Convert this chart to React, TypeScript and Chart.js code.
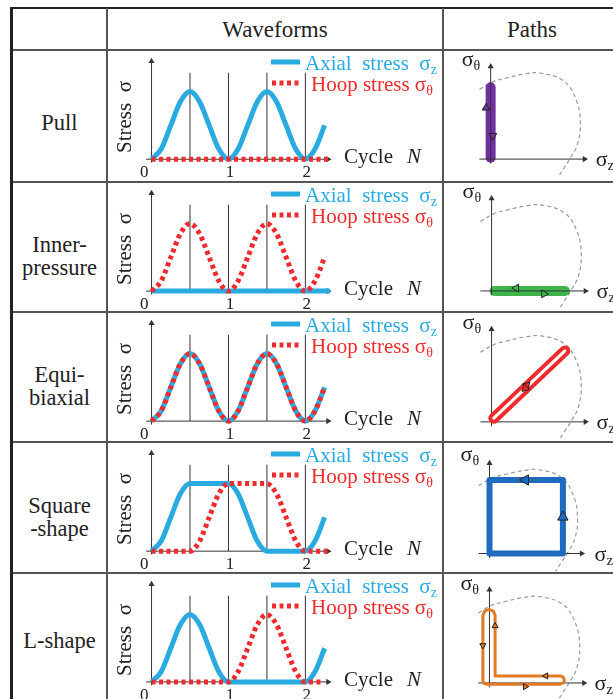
import React, { useEffect, useRef } from 'react';
import { Chart, registerables } from 'chart.js';

Chart.register(...registerables);

const SERIF = '"Liberation Serif", "Times New Roman", serif';
const BLUE = '#29ABE2';
const RED = '#EF2B2D';
const AXIS = '#333333';

// ---------------- waveform data (stress vs cycle N) ----------------
const cycleN = [0, 0.125, 0.25, 0.375, 0.5, 0.625, 0.75, 0.875, 1, 1.125, 1.25, 1.375, 1.5, 1.625, 1.75, 1.875, 2, 2.125, 2.25];
const zeroN = [0, 2.32];
const zeroStress = [0, 0];
const sineStress = [0, 0.15, 0.5, 0.85, 1, 0.85, 0.5, 0.15, 0, 0.15, 0.5, 0.85, 1, 0.85, 0.5, 0.15, 0, 0.15, 0.5];
const squareAxial = [0, 0.15, 0.5, 0.85, 1, 1, 1, 1, 1, 0.85, 0.5, 0.15, 0, 0, 0, 0, 0, 0.15, 0.5];
const squareHoopN = [0, 0.125, 0.25, 0.375, 0.5, 0.625, 0.75, 0.875, 1, 1.125, 1.25, 1.375, 1.5, 1.625, 1.75, 1.875, 2, 2.125, 2.25, 2.32];
const squareHoop = [0, 0, 0, 0, 0, 0.15, 0.5, 0.85, 1, 1, 1, 1, 1, 0.85, 0.5, 0.15, 0, 0, 0, 0];
const lAxial = [0, 0.15, 0.5, 0.85, 1, 0.85, 0.5, 0.15, 0, 0, 0, 0, 0, 0, 0, 0, 0, 0.15, 0.5];
const lHoopN = [0, 0.125, 0.25, 0.375, 0.5, 0.625, 0.75, 0.875, 1, 1.125, 1.25, 1.375, 1.5, 1.625, 1.75, 1.875, 2, 2.125, 2.2];
const lHoop = [0, 0, 0, 0, 0, 0, 0, 0, 0, 0.15, 0.5, 0.85, 1, 0.85, 0.5, 0.15, 0, 0, 0];
const markerN = [0.5, 1, 1.5, 2];
const markerTop = 1.28;
const tickValues = [0, 1, 2];
const tickLabels = ['0', '1', '2'];

// ---------------- path data (sigma_z, sigma_theta) ----------------
const yieldZ = [-0.15, 0.02, 0.22, 0.45, 0.66, 0.97, 1.14, 1.2, 1.16, 1.075, 0.97, 0.9];
const yieldT = [0.95, 1.05, 1.11, 1.16, 1.175, 1.07, 0.82, 0.49, 0.2, 0.03, -0.14, -0.25];

const pullPathZ = [0, 0];
const pullPathT = [0.02, 0.98];
const pullArrowZ = [-0.06, 0.03];
const pullArrowT = [0.7, 0.32];
const pullArrowDir = [0, 180];

const innerPathZ = [0.04, 0.98];
const innerPathT = [0, 0];
const innerArrowZ = [0.33, 0.7];
const innerArrowT = [0.04, -0.04];
const innerArrowDir = [270, 90];

const equiPathZ = [0.03, 0.98];
const equiPathT = [0.05, 0.97];
const equiArrowZ = [0.47, 0.45];
const equiArrowT = [0.5, 0.46];
const equiArrowDir = [45, 225];

const squarePathZ = [0, 1.0, 1.0, 0, 0];
const squarePathT = [0, 0, 1.03, 1.03, 0];
const squareArrowZ = [0.49, 1.0];
const squareArrowT = [1.03, 0.51];
const squareArrowDir = [270, 0];

const lPathZ = [0.075, 0.075, 0.94, 0.98, 0.996, 0.98, 0.94, -0.04, -0.075, -0.0875, -0.087, -0.063, -0.006, 0.051, 0.075];
const lPathT = [0.92, 0.096, 0.096, 0.08, 0.04, 0.0, -0.016, -0.016, -0.004, 0.03, 0.92, 0.977, 1.001, 0.977, 0.92];
const lArrowZ = [0.075, -0.0875, 0.75, 0.475];
const lArrowT = [0.775, 0.51, 0.096, -0.05];
const lArrowDir = [0, 180, 270, 90];

const rowNames = [['Pull'], ['Inner-', 'pressure'], ['Equi-', 'biaxial'], ['Square', '-shape'], ['L-shape']];

// ---------------- layout ----------------
const ROW_TOPS = [50, 182, 312, 442, 573];
const PAGE_H = 699;
const PATH_OX = [44, 45, 45, 42, 43];
const PATH_OY = [112, 112, 113, 116, 113];

const rows = [
  {
    axialN: cycleN, axial: sineStress, hoopN: zeroN, hoop: zeroStress,
    path: { z: pullPathZ, t: pullPathT, az: pullArrowZ, at: pullArrowT, adir: pullArrowDir, ar: 4.5, afill: '#7030A0', overAxes: false,
      strokes: [{ borderColor: '#7030A0', borderWidth: 10, borderCapStyle: 'round' }] },
  },
  {
    axialN: zeroN, axial: zeroStress, hoopN: cycleN, hoop: sineStress,
    path: { z: innerPathZ, t: innerPathT, az: innerArrowZ, at: innerArrowT, adir: innerArrowDir, ar: 4.5, afill: '#3DB54A', overAxes: false,
      strokes: [{ borderColor: '#3DB54A', borderWidth: 10, borderCapStyle: 'round' }] },
  },
  {
    axialN: cycleN, axial: sineStress, hoopN: cycleN, hoop: sineStress,
    path: { z: equiPathZ, t: equiPathT, az: equiArrowZ, at: equiArrowT, adir: equiArrowDir, ar: 4.5, afill: '#EF2B2D', overAxes: true,
      strokes: [
        { borderColor: '#EF2B2D', borderWidth: 11, borderCapStyle: 'round' },
        { borderColor: '#ffffff', borderWidth: 3, borderCapStyle: 'round' },
      ] },
  },
  {
    axialN: cycleN, axial: squareAxial, hoopN: squareHoopN, hoop: squareHoop,
    path: { z: squarePathZ, t: squarePathT, az: squareArrowZ, at: squareArrowT, adir: squareArrowDir, ar: 6, afill: '#1F6BC0', overAxes: true,
      strokes: [{ borderColor: '#1F6BC0', borderWidth: 6, borderCapStyle: 'round', borderJoinStyle: 'round' }] },
  },
  {
    axialN: cycleN, axial: lAxial, hoopN: lHoopN, hoop: lHoop,
    path: { z: lPathZ, t: lPathT, az: lArrowZ, at: lArrowT, adir: lArrowDir, ar: 3.5, afill: '#E27A22', overAxes: true,
      strokes: [{ borderColor: '#E27A22', borderWidth: 3, borderCapStyle: 'round', borderJoinStyle: 'round' }] },
  },
];

const pts = (xs: number[], ys: number[]) => xs.map((x, i) => ({ x, y: ys[i] }));
const line = (data: any[], opts: any) => ({
  data, showLine: true, pointRadius: 0, borderWidth: 1, fill: false, tension: 0, clip: false, ...opts,
});
const arrowOpts = (rot: number) => ({
  borderColor: AXIS, pointRadius: [0, 3.5], pointStyle: 'triangle', pointRotation: [0, rot],
  pointBackgroundColor: AXIS, pointBorderWidth: 0,
});

function drawRuns(ctx: CanvasRenderingContext2D, x: number, y: number, parts: any[]) {
  let cx = x;
  for (const p of parts) {
    ctx.font = `${p.style || ''} ${p.size}px ${SERIF}`;
    ctx.fillText(p.t, cx, y + (p.dy || 0));
    cx += ctx.measureText(p.t).width + (p.gap || 0);
  }
}

const wavePlugin = {
  id: 'waveText',
  afterDatasetsDraw(chart: any) {
    const ctx = chart.ctx as CanvasRenderingContext2D;
    const xs = chart.scales.x, ys = chart.scales.y;
    const y0 = ys.getPixelForValue(0);
    ctx.save();
    ctx.fillStyle = '#222';
    ctx.textBaseline = 'alphabetic';
    ctx.font = `17px ${SERIF}`;
    tickValues.forEach((v, i) => {
      const px = xs.getPixelForValue(v);
      if (v === 0) { ctx.textAlign = 'right'; ctx.fillText(tickLabels[i], px - 3, y0 + 18); }
      else { ctx.textAlign = 'center'; ctx.fillText(tickLabels[i], px + 1.5, y0 + 18); }
    });
    ctx.textAlign = 'left';
    drawRuns(ctx, 236, y0 + 4, [{ t: 'Cycle', size: 21, gap: 14 }, { t: 'N', size: 21, style: 'italic' }]);
    ctx.save();
    ctx.translate(17, 66);
    ctx.rotate(-Math.PI / 2);
    ctx.textAlign = 'center';
    ctx.textBaseline = 'middle';
    ctx.font = `21px ${SERIF}`;
    ctx.fillText('Stress  σ', 0, 0);
    ctx.restore();
    // legend
    ctx.lineCap = 'butt';
    ctx.strokeStyle = BLUE; ctx.lineWidth = 5;
    ctx.beginPath(); ctx.moveTo(163, 11); ctx.lineTo(192, 11); ctx.stroke();
    ctx.strokeStyle = RED; ctx.setLineDash([4, 3.5]);
    ctx.beginPath(); ctx.moveTo(164, 32); ctx.lineTo(194, 32); ctx.stroke();
    ctx.setLineDash([]);
    ctx.textAlign = 'left'; ctx.textBaseline = 'alphabetic';
    ctx.fillStyle = BLUE;
    drawRuns(ctx, 197, 19, [{ t: 'Axial  stress  σ', size: 21 }, { t: 'z', size: 14, dy: 4 }]);
    ctx.fillStyle = RED;
    drawRuns(ctx, 203, 40, [{ t: 'Hoop stress σ', size: 21 }, { t: 'θ', size: 14, dy: 4 }]);
    ctx.restore();
  },
};

const pathPlugin = {
  id: 'pathText',
  afterDatasetsDraw(chart: any) {
    const ctx = chart.ctx as CanvasRenderingContext2D;
    const ox = chart.scales.x.getPixelForValue(0), oy = chart.scales.y.getPixelForValue(0);
    ctx.save();
    ctx.fillStyle = '#222';
    ctx.textAlign = 'left';
    ctx.textBaseline = 'alphabetic';
    drawRuns(ctx, ox - 29, oy - 93, [{ t: 'σ', size: 22 }, { t: 'θ', size: 14, dy: 4 }]);
    drawRuns(ctx, ox + 105, oy + 7, [{ t: 'σ', size: 22 }, { t: 'z', size: 15, dy: 4 }]);
    ctx.restore();
  },
};

const baseOptions = (xmin: number, xmax: number, ymin: number, ymax: number) => ({
  responsive: false,
  maintainAspectRatio: false,
  animation: false,
  events: [],
  layout: { padding: 0 },
  plugins: { legend: { display: false }, tooltip: { enabled: false }, title: { display: false } },
  scales: {
    x: { type: 'linear', display: false, min: xmin, max: xmax, bounds: 'data' },
    y: { type: 'linear', display: false, min: ymin, max: ymax, bounds: 'data' },
  },
});

function WaveChart({ top, height, row }: any) {
  const ref = useRef<HTMLCanvasElement>(null);
  const W = 335;
  useEffect(() => {
    const ox = 40.5, oy = 111, ux = 78.8, uy = 72;
    const layers: any[] = [
      line([{ x: -0.07, y: 0 }, { x: 2.295, y: 0 }], arrowOpts(90)),
      line([{ x: 0, y: -0.05 }, { x: 0, y: 1.45 }], arrowOpts(0)),
      ...markerN.map((n) => line([{ x: n, y: 0 }, { x: n, y: markerTop }], { borderColor: AXIS })),
      line(pts(row.axialN, row.axial), { borderColor: BLUE, borderWidth: 5, cubicInterpolationMode: 'monotone', borderCapStyle: 'butt' }),
      line(pts(row.hoopN, row.hoop), { borderColor: RED, borderWidth: 5, borderDash: [4, 3.5], cubicInterpolationMode: 'monotone', borderCapStyle: 'butt' }),
    ];
    const datasets = layers.map((d, i) => ({ ...d, order: layers.length - i }));
    const chart = new Chart(ref.current as HTMLCanvasElement, {
      type: 'line',
      data: { datasets },
      options: baseOptions(-ox / ux, (W - ox) / ux, -(height - oy) / uy, oy / uy) as any,
      plugins: [wavePlugin],
    } as any);
    return () => chart.destroy();
  }, []);
  return <canvas ref={ref} width={W} height={height} style={{ position: 'absolute', left: 108, top, width: W, height }} />;
}

function PathChart({ top, height, ox, oy, cfg }: any) {
  const ref = useRef<HTMLCanvasElement>(null);
  const W = 169;
  useEffect(() => {
    const u = 80;
    const axes = [
      line([{ x: -0.15, y: 0 }, { x: 1.255, y: 0 }], arrowOpts(90)),
      line([{ x: 0, y: -0.06 }, { x: 0, y: 1.265 }], arrowOpts(0)),
    ];
    const yieldDs = line(pts(yieldZ, yieldT), { borderColor: '#9a9a9a', borderWidth: 1.2, borderDash: [4, 3], tension: 0.4 });
    const pathDs = cfg.strokes.map((s: any) => line(pts(cfg.z, cfg.t), s));
    const arrows = {
      data: pts(cfg.az, cfg.at), showLine: false, pointStyle: 'triangle', pointRadius: cfg.ar,
      pointRotation: cfg.adir, pointBackgroundColor: cfg.afill, pointBorderColor: '#222', pointBorderWidth: 1, clip: false,
    };
    const layers: any[] = cfg.overAxes ? [yieldDs, ...axes, ...pathDs, arrows] : [yieldDs, ...pathDs, ...axes, arrows];
    const datasets = layers.map((d, i) => ({ ...d, order: layers.length - i }));
    const chart = new Chart(ref.current as HTMLCanvasElement, {
      type: 'line',
      data: { datasets },
      options: baseOptions(-ox / u, (W - ox) / u, -(height - oy) / u, oy / u) as any,
      plugins: [pathPlugin],
    } as any);
    return () => chart.destroy();
  }, []);
  return <canvas ref={ref} width={W} height={height} style={{ position: 'absolute', left: 444, top, width: W, height }} />;
}

export default function App() {
  const abs = (s: any) => ({ position: 'absolute', ...s });
  return (
    <div style={{ position: 'fixed', left: 0, top: 0, width: 613, height: PAGE_H, overflow: 'hidden', background: '#fff', fontFamily: SERIF, color: '#222' }}>
      {rows.map((row, i) => {
        const top = ROW_TOPS[i];
        const bottom = i < ROW_TOPS.length - 1 ? ROW_TOPS[i + 1] : PAGE_H;
        const h = bottom - top - 1;
        const shift = rowNames[i].length > 1 ? 9 : (i === 0 ? 6 : 4);
        return (
          <React.Fragment key={i}>
            <WaveChart top={top + 1} height={h} row={row} />
            <PathChart top={top + 1} height={h} ox={PATH_OX[i]} oy={PATH_OY[i]} cfg={row.path} />
            <div style={abs({ left: 12, width: 95, top: top + shift, height: bottom - top, display: 'flex', flexDirection: 'column', alignItems: 'center', justifyContent: 'center', fontSize: 22.5, lineHeight: '23px', textAlign: 'center' })}>
              {rowNames[i].map((t, k) => <div key={k}>{t}</div>)}
            </div>
          </React.Fragment>
        );
      })}
      <div style={abs({ left: 107, top: 9, width: 336, height: 41, display: 'flex', alignItems: 'center', justifyContent: 'center', fontSize: 23 })}>Waveforms</div>
      <div style={abs({ left: 443, top: 9, width: 178, height: 41, display: 'flex', alignItems: 'center', justifyContent: 'center', fontSize: 23 })}>Paths</div>
      {/* table rules */}
      <div style={abs({ left: 11, top: 7, width: 602, height: 2, background: '#222' })} />
      {ROW_TOPS.map((y) => <div key={y} style={abs({ left: 12, top: y - 1, width: 601, height: 2, background: '#555' })} />)}
      <div style={abs({ left: 10, top: 7, width: 3, height: PAGE_H, background: '#222' })} />
      <div style={abs({ left: 106, top: 8, width: 2, height: PAGE_H, background: '#555' })} />
      <div style={abs({ left: 442, top: 8, width: 2, height: PAGE_H, background: '#555' })} />
    </div>
  );
}
